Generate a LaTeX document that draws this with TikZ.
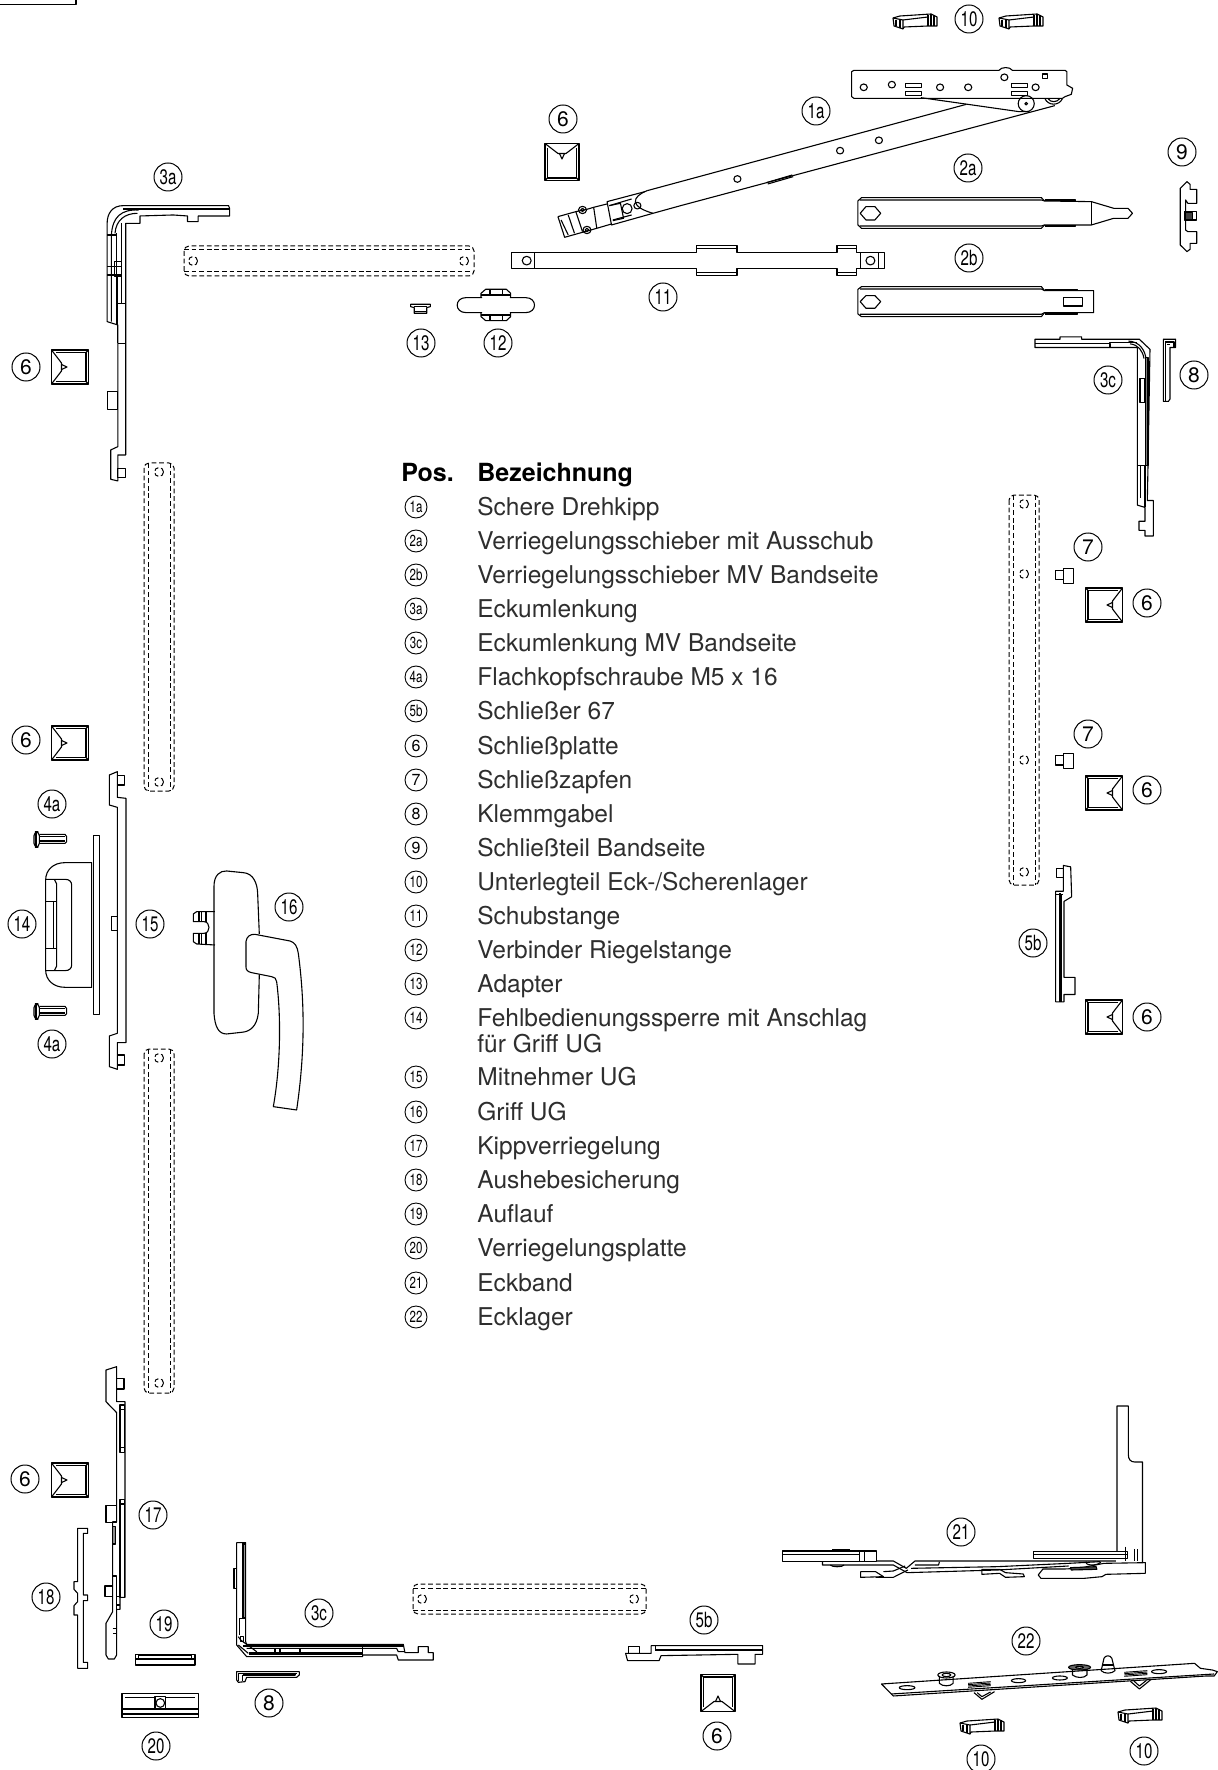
\documentclass[tikz,border=0pt]{standalone}
\usepackage{fontspec}
\setmainfont{TeX Gyre Heros}
\usepackage{graphicx}

\newcommand{\fitnum}[1]{\setbox0\hbox{#1}\ifdim\wd0>0.7em \scalebox{.72}[1]{#1}\else #1\fi}

\tikzset{
	part/.style={line width=0.55pt, line join=round},
	ghost/.style={line width=0.5pt, dash pattern=on 2.4pt off 1.4pt},
	callout/.style={draw, circle, line width=0.5pt, minimum size=14pt, inner sep=0pt, font=\fontsize{10.5}{11}\selectfont},
	legcircle/.style={draw, circle, line width=0.45pt, minimum size=11pt, inner sep=0pt, font=\fontsize{8}{8}\selectfont},
	legtext/.style={anchor=base west, inner sep=0pt, text=black!82, font=\fontsize{12.25}{14}\selectfont},
	leghead/.style={anchor=base west, inner sep=0pt, font=\fontsize{12.5}{14}\selectfont\bfseries},
	viewTR/.style={shift={(520,0)}, xscale=.4464, yscale=.3333},
	viewTL/.style={xscale=.3571, yscale=.3333},
	viewMid/.style={shift={(0,720)}, scale=.3333},
	viewBL/.style={shift={(0,1340)}, scale=.3333},
	viewBR/.style={shift={(600,1390)}, xscale=.3937, yscale=.3333},
	viewR/.style={shift={(980,330)}, xscale=.3333, yscale=.4608},
}

%strike plate, tab to the left at rotation 0
\newcommand{\strikeplate}[2]{
	\begin{scope}[shift={(#1)}, rotate=#2, part]
		\draw (-18.5,-17) rectangle (18.5,17);
		\draw (-14,-14.5)--(16,-14.5)--(16,14.5)--(-14,14.5);
		\draw (16,-14.5)--(18.5,-17) (16,14.5)--(18.5,17);
		\draw (-18.5,-17)--(-8.5,-4)--(-8.5,4)--(-18.5,17);
		\draw (-8.5,-2.5)--(-3,0)--(-8.5,2.5);
	\end{scope}
}
%spacer block
\newcommand{\spacerblock}[1]{
	\begin{scope}[shift={(#1)}, part]
		\draw (0,-11)--(7,-13)--(38,-15)--(44,-12)--(44,-3)--(35,-3)--(11,-2)--(10,0)--(1,-3)--cycle;
		\draw (10,0)--(10,-9)--(0,-11);
		\draw (10,-9)--(35,-12);
		\draw (35,-14)--(35,-3);
		\draw (38,-15)--(38,-3);
		\draw (41,-14)--(41,-3);
		\draw (3,-9)--(3,-3);
		\draw (7,-10)--(7,-1);
	\end{scope}
}

\begin{document}
\begin{tikzpicture}[x=0.5pt, y=-0.5pt]
	\useasboundingbox (0,0) rectangle (1217,1770);

	\draw [part] (0,4.5)--(76,4.5)--(76,0);

	%dashed bars
	\foreach \xa/\ya/\yb/\holes in {144/463/791/{472,782}, 144/1049/1393/{1058,1383}, 1009/495/885/{504,574,760,872}}{
		\draw [ghost, rounded corners=2.5] (\xa,\ya) rectangle (\xa+30,\yb);
		\draw [ghost] (\xa+4,\ya)--(\xa+4,\yb);
		\draw [ghost] (\xa+26,\ya)--(\xa+26,\yb);
		\foreach \h in \holes { \draw [ghost] (\xa+15,\h) circle (4.5); }
	}
	\foreach \xa/\xb/\ya/\ha/\hb in {184/474/246/193/464, 413/646/1584/422/634}{
		\draw [ghost, rounded corners=2.5] (\xa,\ya) rectangle (\xb,\ya+30);
		\draw [ghost] (\xa,\ya+4)--(\xb,\ya+4);
		\draw [ghost] (\xa,\ya+26)--(\xb,\ya+26);
		\draw [ghost] (\ha,\ya+15) circle (4.5);
		\draw [ghost] (\hb,\ya+15) circle (4.5);
	}

	%strike plates
	\strikeplate{562,162}{-90}
	\strikeplate{70,367}{0}
	\strikeplate{70,743}{0}
	\strikeplate{70,1480}{0}
	\strikeplate{1104,605}{180}
	\strikeplate{1104,793}{180}
	\strikeplate{1104,1017}{180}
	\strikeplate{718,1693}{90}

	%spacers
	\spacerblock{893,29}
	\spacerblock{999,29}
	\spacerblock{960,1734}
	\spacerblock{1118,1723}

	\begin{scope}[viewTR, part]
		%scissor stay
		\begin{scope}[xshift=-3.5pt]
			\draw (755,211)--(1080,211) .. controls (1085,200) and (1105,200) .. (1110,211)--(1228,211)--(1232,215)--(1232,255)--(1245,265)--(1242,283)--(1228,290)--(1222,295)--(755,295)--(750,290)--(750,215)--cycle;
			\foreach \hx/\hy in {777/262, 840/254, 948/262, 1011/262, 1092/232, 1162/262}{
				\draw (\hx,\hy) ellipse (8 and 10);
			}
			\draw (1177,222) rectangle (1188,236);
			\draw (870,250) rectangle (906,262);
			\draw (870,275) rectangle (906,287);
			\draw (1108,250) rectangle (1144,262);
			\draw (1108,274) rectangle (1144,286);
			\draw (1141,311) ellipse (18 and 24);
			\draw (1141,311) ellipse (3 and 4);
			\draw (1183,296) .. controls (1190,318) and (1215,318) .. (1222,296);
			\draw (1190,296) .. controls (1195,308) and (1210,308) .. (1216,296);
			\draw (905,293)--(1125,335)--(1148,335);
		\end{scope}
		\draw (1000,313)--(285,572);
		\draw (1198,317)--(360,617)--(298,640);
		\draw (555,552)--(612,530);
		\draw (552,548)--(610,525);
		\draw (285,572) .. controls (250,590) and (245,620) .. (298,640);
		\foreach \hx/\hy in {804/421, 717/452, 487/537, 263/617}{
			\draw (\hx,\hy) ellipse (8 and 10);
		}
		%scissor head
		\draw (280,575)--(195,605)--(205,675)--(298,640);
		\draw (200,617)--(250,597);
		\draw (208,660)--(250,645);
		\draw (240,626) ellipse (11 and 15);
		\draw (200,617)--(225,610)--(232,655)--(208,662);
		\draw (195,612)--(165,622)--(172,685)--(205,672);
		\draw (85,650)--(125,635)--(150,628)--(165,622);
		\draw (85,650)--(100,712)--(172,685);
		\draw (92,660)--(108,705);
		\draw (125,635)--(140,695);
		\draw (108,645)--(122,700);
		\draw (140,630) ellipse (9 and 11);
		\draw (140,630) ellipse (4 and 5);
		\draw (150,690) ellipse (9 and 11);
		\draw (150,690) ellipse (4 and 5);
		%slide 2a
		\draw (765,593)--(1168,593)--(1175,603)--(1280,605)--(1330,625)--(1362,625)--(1372,640)--(1362,655)--(1330,655)--(1280,675)--(1175,675)--(1168,685)--(765,685)--(757,675)--(757,603)--cycle;
		\draw (762,600)--(1168,600)--(1175,603);
		\draw (762,678)--(1168,678)--(1175,675);
		\draw (1175,600)--(1245,600)--(1245,605);
		\draw (1175,678)--(1245,678)--(1245,675);
		\draw (1280,605)--(1280,675);
		\draw (762,640)--(775,620)--(795,620)--(808,640)--(795,660)--(775,660)--cycle;
		%slide 2b
		\draw (765,860)--(1168,860)--(1175,872)--(1285,872)--(1285,938)--(1175,938)--(1168,950)--(765,950)--(757,942)--(757,868)--cycle;
		\draw (762,867)--(1168,867)--(1175,872);
		\draw (762,943)--(1168,943)--(1175,938);
		\draw (1175,868)--(1248,868)--(1248,872);
		\draw (1175,942)--(1248,942)--(1248,938);
		\draw (762,905)--(775,887)--(795,887)--(808,905)--(795,925)--(775,925)--cycle;
		\draw (1217,893) rectangle (1260,918);
		%rod 11
		\draw (-20,757)--(395,757)--(395,737)--(486,737)--(486,757)--(710,757)--(710,737)--(754,737)--(754,757)--(816,757)--(816,805)--(754,805)--(754,827)--(710,827)--(710,805)--(486,805)--(486,827)--(395,827)--(395,805)--(-20,805)--cycle;
		\draw (395,745)--(486,745) (710,745)--(754,745) (395,818)--(486,818) (710,818)--(754,818);
		\draw (33,757)--(33,805) (763,757)--(763,805) (803,757)--(803,805);
		\draw (15,782) ellipse (10 and 13);
		\draw (785,782) ellipse (10 and 13);
		%part 9
		\begin{scope}[xshift=-2pt]
			\draw (1498,545)--(1505,553)--(1505,568)--(1520,568)--(1520,610)--(1500,610)--(1495,600)--(1495,690)--(1500,695)--(1520,695)--(1520,730)--(1505,730)--(1505,748)--(1498,755)--(1483,735)--(1483,565)--cycle;
			\draw (1492,635) rectangle (1520,660);
			\draw [fill=black!75] (1494,638) rectangle (1510,658);
		\end{scope}
	\end{scope}

	\begin{scope}[viewTL, part]
		%corner drive 3a
		\draw (640,617)--(345,617) .. controls (315,617) and (300,640) .. (300,670)--(300,965)--(330,975)--(330,1340)--(310,1350)--(310,1438)--(330,1443)--(330,1365)--(352,1365)--(352,670)--(392,670)--(392,648)--(485,645)--(525,648)--(525,665)--(555,665)--(555,648)--(643,648)--(643,625)--cycle;
		\draw (345,627)--(640,627);
		\draw (388,630) .. controls (340,628) and (315,650) .. (312,705)--(312,965);
		\draw (385,640) .. controls (350,640) and (325,660) .. (322,700);
		\draw (327,700)--(327,975);
		\draw (340,670)--(340,910);
		\draw (300,705)--(327,705);
		\draw (300,800)--(340,800) (300,825)--(340,825);
		\draw (320,785) rectangle (340,830);
		\draw (330,910)--(352,910) (330,1030)--(352,1030);
		\draw (330,830)--(330,1030);
		\draw (330,1405) rectangle (352,1432);
		\draw (300,1175) rectangle (330,1228);
		%adapter 13
		\draw (1150,913)--(1205,913)--(1205,920)--(1195,923)--(1195,940)--(1160,940)--(1160,923)--(1150,920)--cycle;
		\draw (1158,920)--(1195,920);
		\draw (1160,935)--(1195,935);
		%connector 12
		\draw (1350,893)--(1305,893) .. controls (1272,893) and (1272,938) .. (1305,938)--(1350,938);
		\draw (1428,893)--(1472,893) .. controls (1505,893) and (1505,938) .. (1472,938)--(1428,938);
		\draw (1347,893)--(1347,880)--(1360,868)--(1418,868)--(1430,880)--(1430,893);
		\draw (1347,938)--(1347,950)--(1360,962)--(1418,962)--(1430,950)--(1430,938);
		\draw (1347,885)--(1430,885) (1347,945)--(1430,945);
		\draw (1372,868)--(1372,885) (1408,868)--(1408,885) (1372,945)--(1372,962) (1408,945)--(1408,962);
	\end{scope}

	\begin{scope}[viewMid, part]
		%carrier 15
		\draw (328,165)--(352,155)--(352,232)--(378,235)--(378,968)--(352,968)--(352,1048)--(328,1040)--(328,948)--(352,940)--(352,262)--(328,255)--cycle;
		\draw (352,167) rectangle (373,195);
		\draw (352,1005) rectangle (373,1035);
		\draw (334,590) rectangle (352,632);
		%part 14
		\draw (280,347) rectangle (298,883);
		\draw (275,428)--(195,428) .. controls (160,428) and (137,450) .. (137,480)--(137,750) .. controls (137,780) and (160,802) .. (195,802)--(275,802)--cycle;
		\draw (137,478)--(195,478) .. controls (208,478) and (215,485) .. (215,495)--(215,735) .. controls (215,745) and (208,752) .. (195,752)--(137,752);
		\draw (163,478)--(170,492)--(170,738)--(163,752);
		\draw (137,545)--(170,545) (137,685)--(170,685);
		\draw (160,545)--(160,685);
		%screws 4a
		\foreach \dy in {0,516}{
			\draw [rounded corners=2] (102,335+\dy) rectangle (118,382+\dy);
			\draw (118,343+\dy)--(195,343+\dy)--(200,350+\dy)--(200,365+\dy)--(195,370+\dy)--(118,370+\dy);
			\draw (118,350+\dy)--(196,350+\dy) (118,363+\dy)--(196,363+\dy);
			\draw (108,335+\dy)--(108,382+\dy);
		}
		%handle 16
		\draw (778,642)--(773,520) .. controls (772,490) and (760,460) .. (730,458)--(680,453) .. controls (660,452) and (642,465) .. (642,500)--(642,880) .. controls (645,920) and (655,942) .. (680,942)--(725,937) .. controls (750,935) and (770,920) .. (775,880)--(778,765);
		\draw (738,665) .. controls (740,650) and (750,642) .. (765,643)--(870,663) .. controls (885,667) and (892,680) .. (895,700) .. controls (915,850) and (915,1000) .. (890,1170)--(820,1160) .. controls (840,1050) and (845,900) .. (830,785) .. controls (828,775) and (825,772) .. (815,770)--(755,758) .. controls (742,755) and (738,750) .. (738,740)--cycle;
		\draw (645,575)--(590,575)--(580,582)--(580,605)--(612,605) .. controls (632,605) and (632,640) .. (612,640)--(580,640)--(580,665)--(590,672)--(645,675);
		\draw (597,575)--(597,605) (605,575)--(605,605) (618,575)--(618,605);
		\draw (597,640)--(597,672) (605,640)--(605,672) (618,640)--(618,674);
	\end{scope}

	\begin{scope}[viewBL, part]
		%tilt lock 17
		\draw (318,90)--(350,80)--(350,185)--(375,185)--(375,772)--(360,772)--(360,808)--(350,808)--(350,945)--(343,957)--(325,957)--(318,945)--(318,850)--(338,815)--(338,545)--(350,545)--(350,218)--(318,185)--cycle;
		\draw (350,115) rectangle (372,147);
		\draw (318,497) rectangle (350,547);
		\draw (315,738) rectangle (338,770);
		\draw (360,195) rectangle (373,338);
		\draw (360,208)--(373,208) (360,322)--(373,322);
		\draw (360,478) rectangle (373,772);
		\draw (360,492)--(373,492);
		\draw [fill=black!45] (338,560) rectangle (346,612);
		\draw (338,708)--(350,708)--(350,880)--(338,880);
		\draw (338,865)--(350,865) (350,770)--(360,770) (350,795)--(360,795);
		%part 18
		\draw (233,565)--(263,565)--(263,580)--(250,580)--(250,765)--(263,765)--(263,782)--(250,782)--(250,967)--(263,967)--(263,985)--(233,985)--(233,825)--(222,825)--(222,797)--(233,785)--(233,760)--(222,748)--(222,725)--(233,725)--cycle;
		%part 19
		\draw (407,943) rectangle (585,975);
		\draw (407,957)--(585,957) (415,947)--(575,947);
		\draw (415,943)--(415,957) (575,943)--(575,957);
		%part 20
		\draw (366,1060) rectangle (595,1132);
		\draw (375,1072)--(465,1072) (497,1072)--(585,1072);
		\draw (366,1107)--(595,1107) (366,1122)--(595,1122);
		\draw (465,1070) rectangle (497,1107);
		\draw (481,1089) circle (13);
		%corner drive 3c
		\draw (710,608)--(737,608)--(737,905)--(740,913)--(1210,913)--(1215,938)--(1255,938)--(1255,920)--(1285,920)--(1285,938)--(1300,938)--(1300,960)--(1195,960)--(1190,945)--(1088,945)--(1088,950)--(740,950)--(710,915)--cycle;
		\draw (728,608)--(728,835);
		\draw [fill=black!40] (729,612) rectangle (736,832);
		\draw (702,685) rectangle (710,745);
		\draw (718,835)--(737,835) (718,835)--(718,885);
		\draw (1088,913)--(1088,950);
		\draw (730,918)--(1210,918);
		\draw (740,925)--(1190,925)--(1195,935)--(1215,935);
		\draw (748,937)--(1088,937) (748,942)--(1088,942);
		\draw (825,925)--(825,940) (840,925)--(840,940) (900,925)--(900,937);
		\draw (715,890)--(722,900)--(770,935)--(770,945);
		\draw (715,915)--(745,940);
		\draw (722,890) rectangle (730,905);
		%fork 8
		\draw (710,995)--(898,995)--(898,1005)--(890,1012)--(740,1012)--(735,1025)--(715,1027)--(710,1020)--cycle;
		\draw (718,1000)--(890,1000);
		\draw (728,1005)--(885,1005)--(885,998);
		\draw (728,1005)--(728,1022);
		\draw (716,1000)--(716,1024);
	\end{scope}

	\begin{scope}[viewBR, part]
		%part 5b
		\draw (65,790)--(70,812)--(150,812)--(155,797)--(350,793)--(350,822)--(394,822)--(394,793)--(413,793)--(413,767)--(130,767)--(130,790)--cycle;
		\draw (72,790)--(72,770)--(100,770)--(100,790);
		\draw (140,778)--(413,778) (140,767)--(140,782);
		\draw (140,782)--(413,782);
		%corner hinge 21
		\draw (1313,485)--(1313,48)--(1342,48)--(1342,195) .. controls (1342,208) and (1348,216) .. (1358,216)--(1378,216)--(1378,518);
		\draw (1125,537)--(1180,537)--(1215,535)--(1280,520)--(1385,518)--(1385,550)--(1285,553)--(1275,560)--(1230,565)--(1120,565)--(1113,555)--cycle;
		\draw (1100,485) rectangle (1340,505);
		\draw (1100,493)--(1340,493);
		\draw (1358,477)--(1358,512) (1365,477)--(1365,512);
		\draw (1335,470)--(1335,512);
		\draw (463,483) rectangle (703,515);
		\draw (463,493)--(660,493) (660,483)--(660,515) (672,483)--(672,515);
		\draw (585,483)--(640,483) (590,480)--(635,480);
		\draw (703,513)--(745,513)--(778,535)--(800,513)--(1310,513);
		\draw (565,515)--(565,525)--(745,525)--(780,548)--(1010,540)--(1190,528);
		\draw (800,525)--(860,525)--(862,515);
		\draw (790,535)--(1010,530)--(1190,520)--(1270,515);
		\draw (662,545)--(700,545)--(720,560)--(662,562)--cycle;
		\draw (720,545)--(745,543)--(775,528);
		\draw (700,562)--(745,562)--(782,540);
		\draw (970,538)--(1015,538)--(1030,548)--(1075,552)--(1078,560)--(1030,562)--(1015,550)--(970,553)--cycle;
		\draw (585,525) .. controls (590,532) and (615,532) .. (620,525);
		\draw [fill=black!70] (1195,533)--(1260,530)--(1262,538)--(1197,540)--cycle;
		\draw (1235,515) .. controls (1230,528) and (1265,528) .. (1272,516);
		%bearing plate 22
		\draw (715,882)--(1510,820)--(1525,835)--(1555,840)--(1568,845)--(1560,858)--(1540,858)--(745,918)--cycle;
		\draw (740,912)--(1560,852);
		\foreach \hx/\hy/\hrad in {780/893/20, 1063/872/18, 1168/864/19, 1420/845/19}{
			\draw (\hx,\hy) ellipse ({\hrad} and 6);
		}
		\draw (862,858)--(862,880) .. controls (870,890) and (890,890) .. (897,880)--(897,858);
		\draw (880,855) ellipse (22 and 9);
		\draw (880,855) ellipse (11 and 5);
		\draw (1200,835)--(1200,855) .. controls (1210,865) and (1230,865) .. (1237,855)--(1237,835);
		\draw [fill=black!60] (1218,832) ellipse (28 and 8);
		\draw [fill=white] (1218,832) ellipse (10 and 3);
		\draw (1273,842)--(1280,805) .. controls (1283,795) and (1297,795) .. (1300,805)--(1308,842) .. controls (1300,852) and (1280,852) .. (1273,842)--cycle;
		\draw (1277,825)--(1304,825);
		\foreach \dy in {0,4,8,12}{
			\draw [line width=0.45pt] (935,880+\dy)--(992,875+\dy);
			\draw [line width=0.45pt] (1332,847+\dy)--(1390,842+\dy);
		}
		\draw (950,908)--(970,928)--(1002,905);
		\draw (958,908)--(970,920)--(992,906);
		\draw (1347,874)--(1370,897)--(1398,870);
		\draw (1356,873)--(1370,888)--(1388,871);
	\end{scope}

	\begin{scope}[viewR, part]
		%corner drive 3c upper
		\draw (165,20)--(240,20)--(240,15)--(305,15)--(305,20)--(478,20)--(510,42)--(504,295)--(502,370)--(520,370)--(520,447)--(495,447)--(495,435)--(477,435)--(477,415)--(495,415)--(495,385)--(472,380)--(472,38)--(165,38)--cycle;
		\draw (165,30)--(390,30)--(390,27)--(470,27);
		\draw (390,30)--(390,38);
		\draw (445,24) .. controls (480,25) and (495,45) .. (498,62);
		\draw (450,30) .. controls (475,32) and (488,45) .. (492,62);
		\draw [fill=black!50] (497,60) rectangle (504,295);
		\draw (472,295)--(504,295);
		\draw (482,295)--(482,365);
		\draw (495,295)--(495,385);
		\draw (480,105) rectangle (495,157);
		%fork 8 upper
		\draw (550,20)--(587,20)--(587,38)--(570,38)--(570,150)--(565,155)--(550,155)--cycle;
		\draw (556,26)--(582,26)--(582,38) (556,26)--(556,155);
		\draw (560,32)--(570,32);
		%pins 7
		\foreach \dy in {0,402}{
			\draw (227,522+\dy) rectangle (250,542+\dy);
			\draw (250,517+\dy) rectangle (280,550+\dy);
		}
		%part 5b upper
		\draw (250,1162)--(272,1165)--(275,1230)--(252,1240)--(252,1405)--(285,1405)--(285,1442)--(252,1442)--(252,1458)--(227,1458)--(227,1218)--(250,1218)--cycle;
		\draw (230,1168) rectangle (250,1188);
		\draw (240,1222)--(240,1458);
		\draw (227,1225)--(250,1225);
		\draw (245,1225)--(245,1458);
	\end{scope}

	%position callouts
	\foreach \cname/\cx/\cy/\ctxt in {
		cTenA/969/19/10, cSixA/563/119/6, cOneA/816/111/1a, cTwoA/968/168/2a, cTwoB/969/258/2b, cNine/1182/152/9,
		cEleven/663/297/11, cThirteen/421/343/13, cTwelve/498/343/12, cThreeA/168/177/3a, cSixB/26/367/6,
		cThreeC/1108/380/3c, cEightA/1194/375/8, cSevenA/1088/547/7, cSixC/1147/603/6, cSevenB/1088/734/7,
		cSixD/1147/790/6, cFiveA/1033/943/5b, cSixE/1147/1017/6, cSixF/26/740/6, cFourA/52/804/4a, cFourB/52/1044/4a,
		cFourteen/22/924/14, cFifteen/150/924/15, cSixteen/289/907/16, cSeventeen/153/1515/17, cEighteen/46/1597/18,
		cNineteen/164/1624/19, cThreeD/319/1613/3c, cEightB/269/1703/8, cTwenty/156/1746/20, cSixG/25/1479/6,
		cFiveB/704/1620/5b, cSixH/717/1736/6, cTwentyOne/961/1532/21, cTwentyTwo/1026/1641/22,
		cTenB/981/1759/10, cTenC/1144/1751/10}{
		\node [callout] (\cname) at (\cx,\cy) {\fitnum{\ctxt}};
	}

	%legend
	\node [leghead] (legpos) at (401,481) {Pos.};
	\node [leghead] (leghead) at (477,481) {Bezeichnung};
	\foreach \rowy/\pos/\txt in {
		507/1a/Schere Drehkipp,
		541/2a/Verriegelungsschieber mit Ausschub,
		575/2b/Verriegelungsschieber MV Bandseite,
		609/3a/Eckumlenkung,
		643/3c/Eckumlenkung MV Bandseite,
		677/4a/Flachkopfschraube M5 x 16,
		711/5b/Schließer 67,
		746/6/Schließplatte,
		780/7/Schließzapfen,
		814/8/Klemmgabel,
		848/9/Schließteil Bandseite,
		882/10/{Unterlegteil Eck-/Scherenlager},
		916/11/Schubstange,
		950/12/Verbinder Riegelstange,
		984/13/Adapter,
		1018/14/Fehlbedienungssperre mit Anschlag,
		1077/15/Mitnehmer UG,
		1112/16/Griff UG,
		1146/17/Kippverriegelung,
		1180/18/Aushebesicherung,
		1214/19/Auflauf,
		1248/20/Verriegelungsplatte,
		1283/21/Eckband,
		1317/22/Ecklager}{
		\node [legcircle] (leg\pos) at (416,\rowy) {\fitnum{\pos}};
		\node [legtext] (txt\pos) at (477,\rowy+8) {\txt};
	}
	\node [legtext] (txtfourteenb) at (477,1052) {für Griff UG};
\end{tikzpicture}
\end{document}
